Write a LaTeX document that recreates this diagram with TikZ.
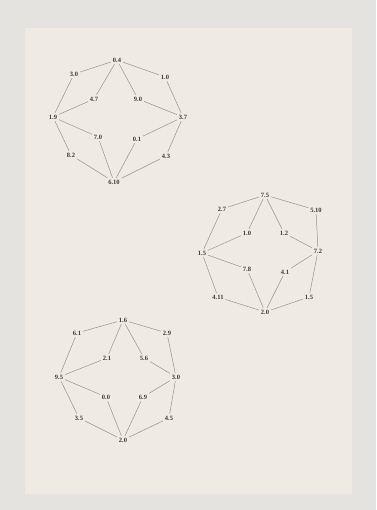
\documentclass[tikz,border=0pt]{standalone}
\usepackage{fontspec}
\setmainfont{Liberation Serif}
\definecolor{bggray}{RGB}{229,227,224}
\definecolor{paper}{RGB}{239,235,227}
\definecolor{pencil}{RGB}{150,147,140}
\definecolor{ink}{RGB}{60,58,54}
\begin{document}
\begin{tikzpicture}[x=1pt,y=-1pt,
  lbl/.style={font=\fontsize{6.5}{7}\selectfont\bfseries, text=ink, inner sep=1.8pt},
  wire/.style={draw=pencil, line width=0.5pt}]
\useasboundingbox (0,0) rectangle (376,510);
\fill[bggray] (0,0) rectangle (376,510);
\fill[paper] (25,28) rectangle (352,494);
% cluster 1
\node[lbl] (a1) at (117,60) {0.4};
\node[lbl] (a2) at (74,74) {3.0};
\node[lbl] (a3) at (165,77) {1.0};
\node[lbl] (a4) at (94,99) {4.7};
\node[lbl] (a5) at (138,99) {9.0};
\node[lbl] (a6) at (53,117) {1.9};
\node[lbl] (a7) at (183,117) {3.7};
\node[lbl] (a8) at (98,137) {7.0};
\node[lbl] (a9) at (137,139) {0.1};
\node[lbl] (a10) at (71,155) {8.2};
\node[lbl] (a11) at (166,156) {4.3};
\node[lbl] (a12) at (114,182) {6.10};
\foreach \u/\v in {a1/a2,a1/a3,a1/a4,a1/a5,a2/a6,a4/a6,a3/a7,a5/a7,a6/a8,a6/a10,a7/a9,a7/a11,a8/a12,a10/a12,a9/a12,a11/a12}
  \draw[wire] (\u) -- (\v);
% cluster 2
\node[lbl] (b1) at (265,195) {7.5};
\node[lbl] (b2) at (222,209) {2.7};
\node[lbl] (b3) at (316,210) {5.10};
\node[lbl] (b4) at (247,233) {1.0};
\node[lbl] (b5) at (284,233) {1.2};
\node[lbl] (b6) at (202,253) {1.5};
\node[lbl] (b7) at (318,251) {7.2};
\node[lbl] (b8) at (247,269) {7.8};
\node[lbl] (b9) at (285,272) {4.1};
\node[lbl] (b10) at (218,297) {4.11};
\node[lbl] (b11) at (309,297) {1.5};
\node[lbl] (b12) at (265,312) {2.0};
\foreach \u/\v in {b1/b2,b1/b3,b1/b4,b1/b5,b2/b6,b4/b6,b3/b7,b5/b7,b6/b8,b6/b10,b7/b9,b7/b11,b8/b12,b10/b12,b9/b12,b11/b12}
  \draw[wire] (\u) -- (\v);
% cluster 3
\node[lbl] (c1) at (123,320) {1.6};
\node[lbl] (c2) at (77,333) {6.1};
\node[lbl] (c3) at (167,333) {2.9};
\node[lbl] (c4) at (107,358) {2.1};
\node[lbl] (c5) at (144,358) {5.6};
\node[lbl] (c6) at (59,377) {9.5};
\node[lbl] (c7) at (176,377) {3.0};
\node[lbl] (c8) at (106,397) {0.0};
\node[lbl] (c9) at (143,397) {6.9};
\node[lbl] (c10) at (79,418) {3.5};
\node[lbl] (c11) at (169,418) {4.5};
\node[lbl] (c12) at (123,440) {2.0};
\foreach \u/\v in {c1/c2,c1/c3,c1/c4,c1/c5,c2/c6,c4/c6,c3/c7,c5/c7,c6/c8,c6/c10,c7/c9,c7/c11,c8/c12,c10/c12,c9/c12,c11/c12}
  \draw[wire] (\u) -- (\v);
\end{tikzpicture}
\end{document}
